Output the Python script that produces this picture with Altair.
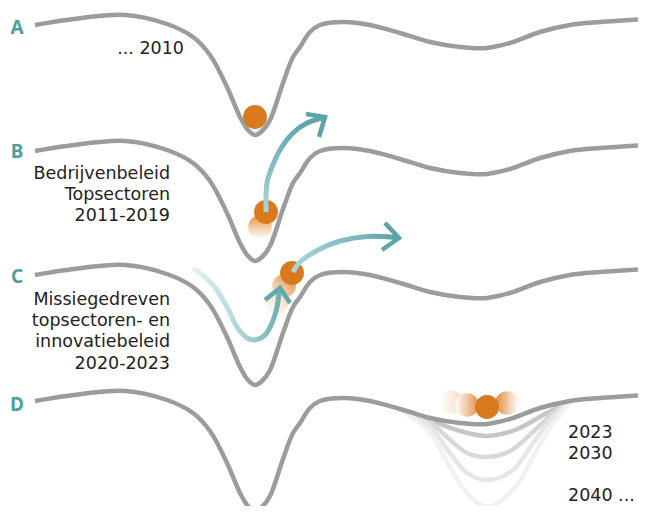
import altair as alt
import pandas as pd

# ---- data (pixel coordinates of the picture) ----
# profile of one landscape line (curve A); B, C, D are the same line shifted down
profile_x = [35, 67, 125, 167, 193, 210, 227, 240, 248, 255, 262, 270, 283, 293, 300, 310, 320, 343, 370, 400, 430, 460, 487, 510, 540, 570, 600, 646]
profile_y = [25, 20, 15, 24, 37, 55, 87, 117, 130, 135, 131, 120, 83, 57, 47, 32, 25, 22, 25, 33, 42, 47, 48, 43, 32, 25, 22, 19]
curve_names = ["A", "B", "C", "D"]
curve_offsets = [0, 126, 250, 376]
label_y = [28, 152, 277, 405]

# deepening future valleys on line D
valley_names = ["v2", "v3", "v4", "v5"]
valley_colors = ["#c6c6c6", "#d8d8d8", "#e6e6e6", "#f1f1f1"]
valley_x = [
    [400, 430, 460, 487, 515, 545, 570],
    [400, 425, 447, 467, 487, 510, 533, 553, 570],
    [400, 430, 450, 467, 487, 513, 533, 553, 570],
    [400, 430, 450, 467, 487, 513, 533, 553, 570],
]
valley_y = [
    [409, 420, 431, 436, 430, 414, 401],
    [409, 418, 437, 453, 457, 451, 432, 413, 402],
    [409, 427, 453, 473, 480, 470, 443, 417, 402],
    [409, 433, 467, 493, 507, 490, 457, 423, 403],
]

# balls
ball_x = [255, 266, 292, 487]
ball_y = [117, 212, 273, 407]

# arrows
arrowB_x = [266, 267, 272, 280, 293, 307, 322]
arrowB_y = [212, 183, 167, 150, 133, 123, 118]
headB_x = [306, 325, 319]
headB_y = [114, 117, 137]

arrowC_x = [293, 300, 320, 340, 367, 397]
arrowC_y = [272, 262, 249, 241, 236.5, 237.5]
headC_x = [385, 399, 382]
headC_y = [223, 238, 250]

arrowC0_x = [193, 213, 227, 237, 247, 255, 265, 272, 277, 279]
arrowC0_y = [268, 285, 307, 327, 338, 340, 335, 323, 307, 291]
headC0_x = [265, 280, 290]
headC0_y = [300, 288, 303]

# texts
text_rows = [
    ("... 2010", 184, 54, "right"),
    ("Bedrijvenbeleid", 170, 179, "right"),
    ("Topsectoren", 170, 200, "right"),
    ("2011-2019", 170, 221, "right"),
    ("Missiegedreven", 170, 305, "right"),
    ("topsectoren- en", 170, 326, "right"),
    ("innovatiebeleid", 170, 347, "right"),
    ("2020-2023", 170, 369, "right"),
    ("2023", 568, 438, "left"),
    ("2030", 568, 459, "left"),
    ("2040 ...", 568, 501, "left"),
]

GRAY = "#9c9c9c"
ORANGE = "#d97a1e"
TEAL_D = "#5ba4a7"
TEAL_L = "#a9d6da"
LABEL = "#4f9fa2"
FONT = "DejaVu Sans"

# ---- build tables ----
rows = []
for name, off in zip(curve_names, curve_offsets):
    for i, (x, y) in enumerate(zip(profile_x, profile_y)):
        rows.append({"curve": name, "i": i, "x": x, "y": y + off})
curves = pd.DataFrame(rows)

vrows = []
for name, xs, ys in zip(valley_names, valley_x, valley_y):
    for i, (x, y) in enumerate(zip(xs, ys)):
        vrows.append({"curve": name, "i": i, "x": x, "y": y})
valleys = pd.DataFrame(vrows)

def path(xs, ys):
    return pd.DataFrame({"i": range(len(xs)), "x": xs, "y": ys})

X = alt.X("x:Q", scale=alt.Scale(domain=[8, 638], nice=False, zero=False), axis=None)
Y = alt.Y("y:Q", scale=alt.Scale(domain=[8, 506], nice=False, zero=False, reverse=True), axis=None)

def grad(stops, x1=0, y1=0, x2=1, y2=0):
    return alt.Gradient(gradient="linear",
                        stops=[alt.GradientStop(color=c, offset=o) for o, c in stops],
                        x1=x1, y1=y1, x2=x2, y2=y2)

layers = []

layers.append(
    alt.Chart(valleys).mark_line(interpolate="catmull-rom", strokeWidth=4.5, strokeCap="round").encode(
        x=X, y=Y, order="i:Q",
        color=alt.Color("curve:N", scale=alt.Scale(domain=valley_names, range=valley_colors), legend=None),
    )
)
layers.append(
    alt.Chart(curves).mark_line(interpolate="catmull-rom", strokeWidth=4.5, color=GRAY, strokeCap="butt").encode(
        x=X, y=Y, order="i:Q", detail="curve:N"
    )
)

# faded (ghost) balls
ghosts = [
    (260, 227, grad([(0, "#e58f40"), (0.45, "#f2c39a"), (1, "#ffffff")], 0, 0, 0, 1)),
    (277, 302, grad([(0, "#f6d3b3"), (1, "#ffffff")], 1, 0, 0, 1)),
    (284, 286, grad([(0, "#e38a3a"), (1, "#fbeee2")], 1, 0, 0, 1)),
    (451, 402, grad([(0, "#ffffff"), (1, "#f8dcc0")], 0, 0, 1, 0)),
    (467, 405, grad([(0, "#ffffff"), (1, "#e48f45")], 0, 0, 1, 0)),
    (507, 403, grad([(0, "#e08a3c"), (1, "#ffffff")], 0, 0, 1, 0)),
]
for gx, gy, g in ghosts:
    layers.append(
        alt.Chart(path([gx], [gy])).mark_circle(size=560, opacity=1, fill=g, strokeWidth=0).encode(x=X, y=Y)
    )

layers.append(
    alt.Chart(path(ball_x, ball_y)).mark_circle(size=570, opacity=1, color=ORANGE).encode(x=X, y=Y)
)

# arrows
layers.append(
    alt.Chart(path(arrowB_x, arrowB_y)).mark_line(
        interpolate="catmull-rom", strokeWidth=5, strokeCap="butt",
        stroke=grad([(0, TEAL_L), (1, TEAL_D)], 0, 1, 0, 0)).encode(x=X, y=Y, order="i:Q")
)
layers.append(
    alt.Chart(path(headB_x, headB_y)).mark_line(strokeWidth=4.5, color=TEAL_D, strokeJoin="miter").encode(
        x=X, y=Y, order="i:Q")
)
layers.append(
    alt.Chart(path(arrowC_x, arrowC_y)).mark_line(
        interpolate="catmull-rom", strokeWidth=5, strokeCap="butt",
        stroke=grad([(0, TEAL_L), (1, TEAL_D)], 0, 0, 1, 0)).encode(x=X, y=Y, order="i:Q")
)
layers.append(
    alt.Chart(path(headC_x, headC_y)).mark_line(strokeWidth=4.5, color=TEAL_D, strokeJoin="miter").encode(
        x=X, y=Y, order="i:Q")
)
layers.append(
    alt.Chart(path(arrowC0_x, arrowC0_y)).mark_line(
        interpolate="catmull-rom", strokeWidth=5, strokeCap="butt",
        stroke=grad([(0, "#e3f1f0"), (0.6, "#a8d4d8"), (1, "#6eafb2")], 0, 0, 1, 0)).encode(x=X, y=Y, order="i:Q")
)
layers.append(
    alt.Chart(path(headC0_x, headC0_y)).mark_line(strokeWidth=4.5, color="#62a9ac", strokeJoin="miter").encode(
        x=X, y=Y, order="i:Q")
)

# letters
letters = pd.DataFrame({"t": curve_names, "x": [17] * 4, "y": label_y})
layers.append(
    alt.Chart(letters).mark_text(font="Noto Sans", fontSize=19, fontWeight="bold", color=LABEL,
                                 align="center", baseline="middle").encode(x=X, y=Y, text="t:N")
)

texts = pd.DataFrame(text_rows, columns=["t", "x", "y", "a"])
for a in ["right", "left"]:
    layers.append(
        alt.Chart(texts[texts.a == a]).mark_text(font=FONT, fontSize=17.5, color="#222222",
                                                 align=a, baseline="alphabetic").encode(x=X, y=Y, text="t:N")
    )

chart = alt.layer(*layers).properties(
    width=630, height=498, padding=0, autosize="none"
).configure_view(stroke=None)

chart.save("out.html", embed_options={"renderer": "svg", "actions": False})
